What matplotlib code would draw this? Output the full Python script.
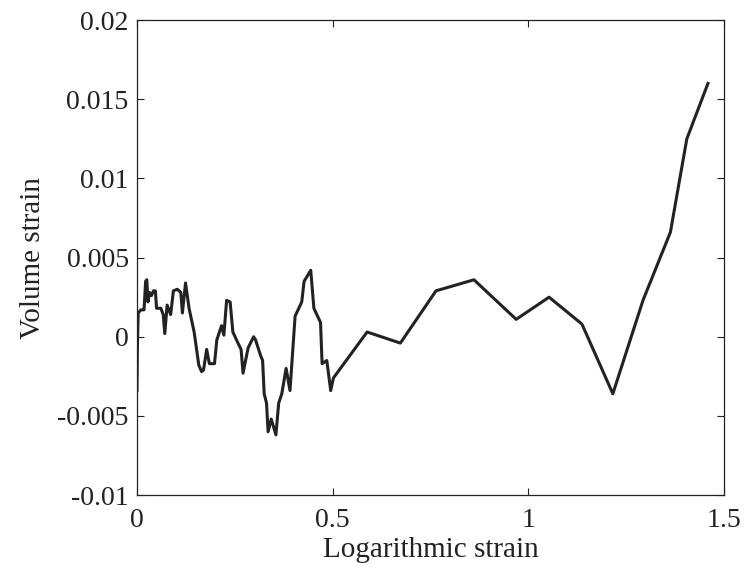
import matplotlib
matplotlib.use("Agg")
import matplotlib.pyplot as plt

# data
log_strain = [0.000, 0.001, 0.003, 0.010, 0.018, 0.022, 0.025, 0.028, 0.032, 0.037,
              0.042, 0.047, 0.050, 0.061, 0.067, 0.071, 0.077, 0.086, 0.093, 0.103,
              0.112, 0.116, 0.124, 0.133, 0.146, 0.158, 0.165, 0.170, 0.178, 0.185,
              0.198, 0.204, 0.212, 0.216, 0.222, 0.229, 0.238, 0.245, 0.258, 0.266,
              0.271, 0.284, 0.298, 0.303, 0.316, 0.321, 0.325, 0.331, 0.335, 0.343,
              0.355, 0.362, 0.370, 0.381, 0.391, 0.404, 0.421, 0.427, 0.444, 0.452,
              0.469, 0.473, 0.485, 0.495, 0.502, 0.588, 0.673, 0.764, 0.861, 0.969,
              1.053, 1.137, 1.216, 1.293, 1.363, 1.405, 1.459]
vol_strain = [-0.0034, -0.0007, 0.0015, 0.0017, 0.0017, 0.0035, 0.0036, 0.0022, 0.0028, 0.0026,
              0.0029, 0.0029, 0.0018, 0.0018, 0.0014, 0.0002, 0.0020, 0.0014, 0.0029, 0.0030,
              0.0028, 0.0015, 0.0034, 0.0018, 0.0003, -0.0018, -0.0022, -0.0021, -0.0008, -0.0017,
              -0.0017, -0.0002, 0.0004, 0.0007, 0.0001, 0.0023, 0.0022, 0.0003, -0.0004, -0.0008,
              -0.0023, -0.0007, 0.0000, -0.0002, -0.0012, -0.0015, -0.0036, -0.0042, -0.0060, -0.0052,
              -0.0062, -0.0042, -0.0036, -0.0020, -0.0034, 0.0013, 0.0022, 0.0035, 0.0042, 0.0018,
              0.0009, -0.0017, -0.0015, -0.0034, -0.0026, 0.0003, -0.0004, 0.0029, 0.0036, 0.0011,
              0.0025, 0.0008, -0.0036, 0.0023, 0.0066, 0.0125, 0.0160]

xticks = [0, 0.5, 1, 1.5]
xtick_labels = ["0", "0.5", "1", "1.5"]
yticks = [-0.01, -0.005, 0, 0.005, 0.01, 0.015, 0.02]
ytick_labels = ["-0.01", "-0.005", "0", "0.005", "0.01", "0.015", "0.02"]

plt.rcParams['font.family'] = ['Liberation Serif', 'DejaVu Serif']

fig = plt.figure(figsize=(7.47, 5.75), dpi=100)
ax = fig.add_axes([0.1834, 0.139, 0.7858, 0.826])

ax.plot(log_strain, vol_strain, color='#222222', lw=2.2)

ax.set_xlim(0, 1.5)
ax.set_ylim(-0.01, 0.02)
ax.set_xticks(xticks)
ax.set_xticklabels(xtick_labels)
ax.set_yticks(yticks)
ax.set_yticklabels(ytick_labels)
ax.tick_params(direction='in', length=5, width=0.8, top=True, right=True,
               labelsize=20, colors='#222222')
ax.tick_params(axis='x', pad=9)
ax.tick_params(axis='y', pad=6)
for s in ax.spines.values():
    s.set_linewidth(0.9)
    s.set_color('#222222')

ax.set_xlabel("Logarithmic strain", fontsize=21, color='#222222', labelpad=3)
ax.set_ylabel("Volume strain", fontsize=21, color='#222222', labelpad=8)

fig.savefig("out.png", dpi=100)
